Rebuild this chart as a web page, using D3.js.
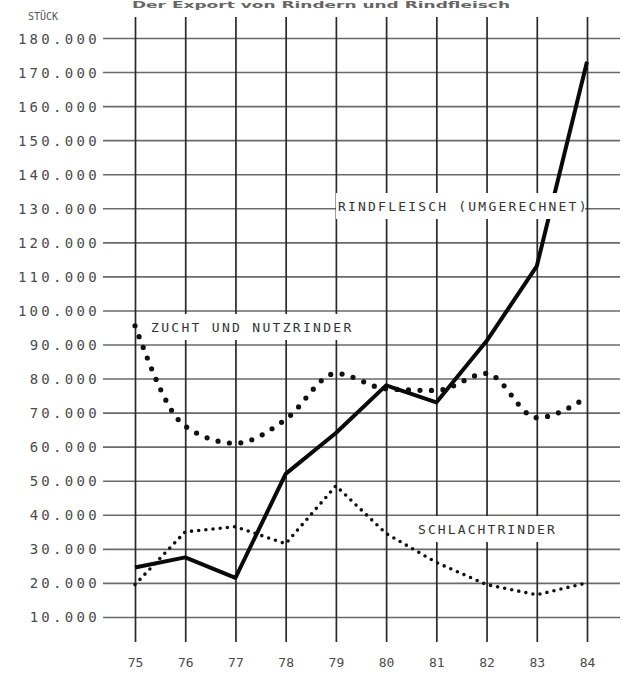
<!DOCTYPE html>
<html>
<head>
<meta charset="utf-8">
<script src="https://cdn.jsdelivr.net/npm/d3@7"></script>
<style>
  html, body { margin: 0; padding: 0; background: #fff; }
  svg { display: block; }
  text { font-family: "DejaVu Sans Mono", "Liberation Mono", monospace; fill: #3a3a3a; }
</style>
</head>
<body>
<svg id="chart" width="627" height="674"></svg>
<script>
// ---- data ----
const years = ["75", "76", "77", "78", "79", "80", "81", "82", "83", "84"];
const rindfleisch = [24500, 27500, 21500, 52000, 64000, 78000, 73000, 91000, 113000, 173000];
const zuchtNutz = [95500, 66000, 61000, 68000, 81500, 77000, 76500, 81500, 68500, 74500];
const schlacht = [19500, 35000, 36500, 31500, 48500, 34500, 26000, 19500, 16500, 20000];
const yTicks = [10000, 20000, 30000, 40000, 50000, 60000, 70000, 80000, 90000, 100000,
                110000, 120000, 130000, 140000, 150000, 160000, 170000, 180000];
const unitLabel = "STÜCK";
const titleText = "Der Export von Rindern und Rindfleisch";
const seriesLabels = ["RINDFLEISCH (UMGERECHNET)", "ZUCHT UND NUTZRINDER", "SCHLACHTRINDER"];

// ---- layout ----
const svg = d3.select("#chart");
const gridLeft = 103, gridRight = 620, gridTop = 17, gridBottom = 642;

const x = d3.scalePoint().domain(years).range([135, 587]);
const y = d3.scaleLinear().domain([0, 180000]).range([651, 38]);

const de = d3.formatLocale({ decimal: ",", thousands: ".", grouping: [3], currency: ["", ""] });
const fmtInt = v => de.format(",")(v);

// title (at the very top edge, as in the scan)
svg.append("text")
  .attr("x", 132).attr("y", 8)
  .attr("textLength", 378)
  .attr("lengthAdjust", "spacingAndGlyphs")
  .style("font-family", "'DejaVu Sans', sans-serif")
  .style("font-weight", "bold")
  .style("font-size", "9px")
  .style("fill", "#666")
  .text(titleText);

// horizontal grid + y labels
const yAxis = d3.axisLeft(y)
  .tickValues(yTicks)
  .tickFormat(fmtInt)
  .tickSizeInner(-(gridRight - gridLeft))
  .tickSizeOuter(0)
  .tickPadding(3);

const gy = svg.append("g")
  .attr("transform", `translate(${gridLeft},0)`)
  .call(yAxis);
gy.select(".domain").remove();
gy.selectAll(".tick line").attr("stroke", "#6a6a6a").attr("stroke-width", 1.6);
gy.selectAll(".tick text")
  .style("font-size", "14px")
  .style("letter-spacing", "3.3px")
  .style("fill", "#4a4a4a")
  .attr("dy", "0.36em");

// vertical grid + x labels
const xAxis = d3.axisBottom(x)
  .tickSizeInner(-(gridBottom - gridTop))
  .tickSizeOuter(0)
  .tickPadding(16);
const gx = svg.append("g")
  .attr("transform", `translate(0,${gridBottom})`)
  .call(xAxis);
gx.select(".domain").remove();
gx.selectAll(".tick line").attr("stroke", "#2a2a2a").attr("stroke-width", 1.7);
gx.selectAll(".tick text")
  .style("font-size", "13px")
  .style("fill", "#4a4a4a");

// unit label
svg.append("text")
  .attr("x", 43).attr("y", 20)
  .attr("text-anchor", "middle")
  .style("font-size", "10px")
  .style("fill", "#555")
  .text(unitLabel);

// ---- lines ----
const lineStraight = d3.line()
  .x((d, i) => x(years[i]))
  .y(d => y(d));
const lineSmooth = d3.line()
  .x((d, i) => x(years[i]))
  .y(d => y(d))
  .curve(d3.curveMonotoneX);

svg.append("path")
  .datum(zuchtNutz)
  .attr("d", lineSmooth)
  .attr("fill", "none")
  .attr("stroke", "#111")
  .attr("stroke-width", 5.2)
  .attr("stroke-linecap", "round")
  .attr("stroke-dasharray", "0,11.5");

svg.append("path")
  .datum(schlacht)
  .attr("d", lineStraight)
  .attr("fill", "none")
  .attr("stroke", "#111")
  .attr("stroke-width", 3.6)
  .attr("stroke-linecap", "round")
  .attr("stroke-dasharray", "0,7.2");

svg.append("path")
  .datum(rindfleisch)
  .attr("d", lineStraight)
  .attr("fill", "none")
  .attr("stroke", "#0a0a0a")
  .attr("stroke-width", 4)
  .attr("stroke-linejoin", "round");

// ---- series labels with white boxes ----
const labelDefs = [
  { text: seriesLabels[0], x0: 336, x1: 585, yc: 206, tx: 338, size: 13, ls: 2.2 },
  { text: seriesLabels[1], x0: 142, x1: 360, yc: 327, tx: 151, size: 13, ls: 2.3 },
  { text: seriesLabels[2], x0: 414, x1: 562, yc: 529, tx: 418, size: 13, ls: 2.1 }
];
labelDefs.forEach(l => {
  svg.append("rect")
    .attr("x", l.x0).attr("y", l.yc - 13)
    .attr("width", l.x1 - l.x0).attr("height", 26)
    .attr("fill", "#fff");
  svg.append("text")
    .attr("x", l.tx).attr("y", l.yc)
    .attr("dy", "0.36em")
    .style("font-size", l.size + "px")
    .style("letter-spacing", l.ls + "px")
    .style("fill", "#333")
    .text(l.text);
});
</script>
</body>
</html>
